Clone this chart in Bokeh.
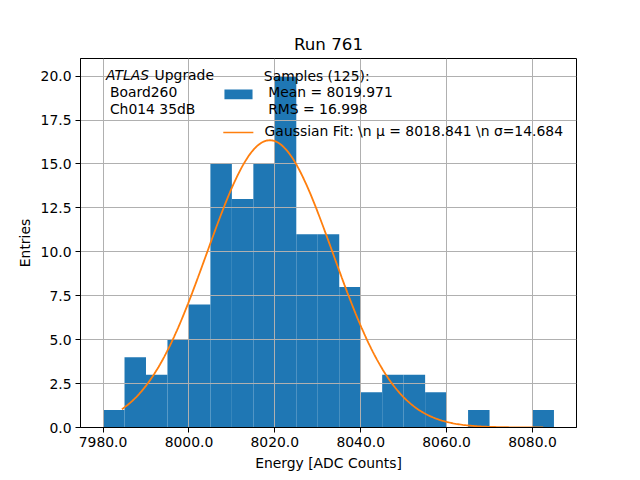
import numpy as np
from bokeh.plotting import figure
from bokeh.models import (Range1d, FixedTicker, Label, BoxAnnotation, ColumnDataSource)
from bokeh.embed import file_html
from bokeh.resources import INLINE

# ---- data ----
bin_edges_left = [7980, 7985, 7990, 7995, 8000, 8005, 8010, 8015, 8020, 8025, 8030,
                  8035, 8040, 8045, 8050, 8055, 8060, 8065, 8070, 8075, 8080]
bin_width = 5
counts = [1, 4, 3, 5, 7, 15, 13, 15, 20, 11, 11, 8, 2, 3, 3, 2, 0, 1, 0, 0, 1]

fit_mu = 8018.841
fit_sigma = 14.684
fit_amplitude = 16.35
fit_x_min = 7984.4
fit_x_max = 8082.5

x_ticks = [7980, 8000, 8020, 8040, 8060, 8080]
x_tick_labels = ["7980.0", "8000.0", "8020.0", "8040.0", "8060.0", "8080.0"]
y_ticks = [0, 2.5, 5, 7.5, 10, 12.5, 15, 17.5, 20]
y_tick_labels = ["0.0", "2.5", "5.0", "7.5", "10.0", "12.5", "15.0", "17.5", "20.0"]

legend_hist_lines = ["Samples (125):", " Mean = 8019.971", " RMS = 16.998"]
legend_fit = "Gaussian Fit: \\n \u03bc = 8018.841 \\n \u03c3=14.684"
info_lines = ["ATLAS", " Upgrade", " Board260", " Ch014 35dB"]

FONT = "DejaVu Sans"
FS = "13.9px"
BAR_COLOR = "#1f77b4"
FIT_COLOR = "#ff7f0e"

centers = [e + bin_width / 2 for e in bin_edges_left]
src = ColumnDataSource(dict(x=centers, top=counts))

fx = np.linspace(fit_x_min, fit_x_max, 300)
fy = fit_amplitude * np.exp(-0.5 * ((fx - fit_mu) / fit_sigma) ** 2)

p = figure(width=640, height=480, output_backend="svg", toolbar_location=None,
           x_range=Range1d(7974.75, 8090.25), y_range=Range1d(0, 21),
           min_border_left=80, min_border_right=64, min_border_top=58, min_border_bottom=53)

bars = p.vbar(x="x", top="top", width=bin_width, bottom=0, source=src,
              fill_color=BAR_COLOR, line_color=None, level="image")
fit = p.line(fx, fy, line_color=FIT_COLOR, line_width=1.8)

p.title.text = "Run 761"
p.title.align = "center"
p.title.text_font = FONT
p.title.text_font_size = "16.7px"
p.title.text_font_style = "normal"
p.title.text_color = "black"

p.outline_line_color = "black"
p.outline_line_width = 1
p.outline_line_alpha = 1

for ax, ticks, labels, name in [(p.xaxis[0], x_ticks, x_tick_labels, "Energy [ADC Counts]"),
                                (p.yaxis[0], y_ticks, y_tick_labels, "Entries")]:
    ax.ticker = FixedTicker(ticks=ticks, minor_ticks=[])
    ax.major_label_overrides = {t: l for t, l in zip(ticks, labels)}
    ax.axis_label = name
    ax.axis_label_text_font = FONT
    ax.axis_label_text_font_size = FS
    ax.axis_label_text_font_style = "normal"
    ax.axis_label_text_color = "black"
    ax.major_label_text_font = FONT
    ax.major_label_text_font_size = FS
    ax.major_label_text_color = "black"
    ax.major_tick_out = 5
    ax.major_tick_in = 0
    ax.minor_tick_out = 0
    ax.minor_tick_in = 0
    ax.major_label_standoff = 4
    ax.axis_label_standoff = 5
    ax.axis_line_color = "black"
    ax.major_tick_line_color = "black"

p.xgrid.ticker = FixedTicker(ticks=x_ticks)
p.ygrid.ticker = FixedTicker(ticks=y_ticks)
for g in (p.xgrid[0], p.ygrid[0]):
    g.grid_line_color = "#b0b0b0"
    g.grid_line_width = 1
    g.level = "underlay"


def txt(x, y, s, style="normal"):
    p.add_layout(Label(x=x, y=y, text=s, text_font=FONT, text_font_size=FS,
                       text_font_style=style, text_baseline="middle", text_align="left",
                       text_color="black"))


# ATLAS text block
txt(7980.7, 20.07, info_lines[0], "italic")
txt(7992.0, 20.07, info_lines[1])
txt(7981.6, 19.08, info_lines[2])
txt(7981.6, 18.13, info_lines[3])

# legend (drawn by hand so that the multi-line label is left aligned)
p.add_layout(BoxAnnotation(left=8008.27, right=8014.81, bottom=18.68, top=19.24,
                           fill_color=BAR_COLOR, fill_alpha=1, line_color=None, level="annotation"))
p.add_layout(BoxAnnotation(left=8008.0, right=8015.0, bottom=16.745, top=16.835,
                           fill_color=FIT_COLOR, fill_alpha=1, line_color=None, level="annotation"))
txt(8017.45, 19.99, legend_hist_lines[0])
txt(8018.45, 19.07, legend_hist_lines[1])
txt(8018.45, 18.13, legend_hist_lines[2])
txt(8017.62, 16.85, legend_fit)

open("out.html", "w").write(file_html(p, INLINE))
